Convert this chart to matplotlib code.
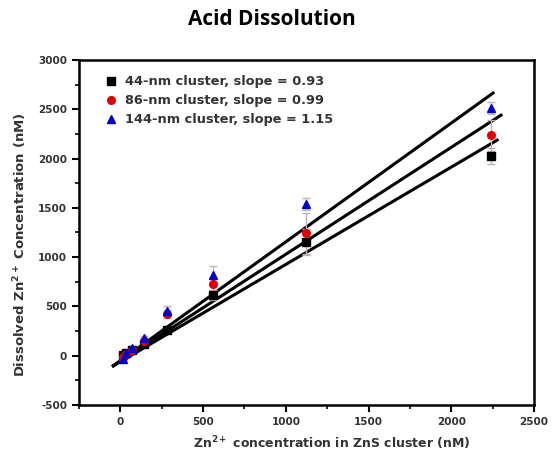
import matplotlib
matplotlib.use("Agg")
import matplotlib.pyplot as plt
import numpy as np
from matplotlib.ticker import MultipleLocator, FuncFormatter

plt.rcParams["mathtext.fontset"] = "dejavusans"
plt.rcParams["mathtext.default"] = "bf"
plt.rcParams["axes.unicode_minus"] = False

x_conc = [17.5, 35, 70, 140, 280, 560, 1120, 2240]
y_44 = [10, 25, 55, 120, 265, 615, 1150, 2025]
e_44 = [10, 10, 15, 20, 30, 50, 130, 80]
y_86 = [-10, 15, 60, 150, 420, 725, 1240, 2235]
e_86 = [10, 10, 15, 25, 40, 70, 210, 160]
y_144 = [-30, 25, 80, 175, 455, 820, 1535, 2515]
e_144 = [10, 10, 15, 25, 50, 90, 60, 60]

labels = ["44-nm cluster, slope = 0.93",
          "86-nm cluster, slope = 0.99",
          "144-nm cluster, slope = 1.15"]

# drawn fit lines: slope, intercept, x range
fit_slope = [0.987, 1.085, 1.205]
fit_icpt = [-61, -56, -50]
fit_xstart = [-50, -50, -50]
fit_xend = [2285, 2308, 2260]

fig = plt.figure(figsize=(5.54, 4.68), dpi=100)
ax = fig.add_axes([0.1426, 0.1346, 0.8214, 0.7374])

colors = ["black", "#e00000", "#0000cc"]
markers = ["s", "o", "^"]
ys = [y_44, y_86, y_144]
es = [e_44, e_86, e_144]

for s, b, x0, x1 in zip(fit_slope, fit_icpt, fit_xstart, fit_xend):
    xx = np.array([x0, x1])
    ax.plot(xx, s * xx + b, color="black", lw=2.2, zorder=2, solid_capstyle="butt")

for y, e, c, m, lab in zip(ys, es, colors, markers, labels):
    ax.errorbar(x_conc, y, yerr=e, fmt="none", ecolor="#c0b0bc", elinewidth=1.0,
                capsize=3, capthick=1.0, zorder=3)
    ax.plot(x_conc, y, linestyle="none", marker=m, color=c, markersize=5.5,
            label=lab, zorder=4)

ax.set_xlim(-250, 2500)
ax.set_ylim(-500, 3000)
ax.xaxis.set_major_locator(MultipleLocator(500))
ax.xaxis.set_minor_locator(MultipleLocator(250))
ax.yaxis.set_major_locator(MultipleLocator(500))
ax.yaxis.set_minor_locator(MultipleLocator(250))
fmt = FuncFormatter(lambda v, p: "%d" % v)
ax.xaxis.set_major_formatter(fmt)
ax.yaxis.set_major_formatter(fmt)

for sp in ax.spines.values():
    sp.set_linewidth(1.8)
ax.tick_params(which="major", direction="out", length=5, width=1.5, labelsize=7.5,
               labelcolor="#333333")
ax.tick_params(which="minor", direction="out", length=3, width=1.2)
for t in ax.get_xticklabels() + ax.get_yticklabels():
    t.set_fontweight("bold")
    t.set_family("DejaVu Sans")

ax.set_xlabel("Zn$^{2+}$ concentration in ZnS cluster (nM)", fontsize=9,
              fontweight="bold", family="DejaVu Sans", color="#333333")
ax.xaxis.set_label_coords(0.555, -0.085)
ax.set_ylabel("Dissolved Zn$^{2+}$ Concentration (nM)", fontsize=9.5,
              fontweight="bold", family="DejaVu Sans", color="#333333")
ax.yaxis.set_label_coords(-0.11, 0.465)

leg = ax.legend(loc="upper left", frameon=False, fontsize=9.3, handletextpad=0.6,
                handlelength=1.0, borderaxespad=0.0, labelspacing=0.45,
                bbox_to_anchor=(0.045, 0.97))
for t in leg.get_texts():
    t.set_fontweight("bold")
    t.set_family("DejaVu Sans")
    t.set_color("#333333")

fig.text(0.49, 0.958, "Acid Dissolution", ha="center", va="center", fontsize=15,
         fontweight="bold", family="Open Sans")

fig.savefig("out.png", dpi=100)
